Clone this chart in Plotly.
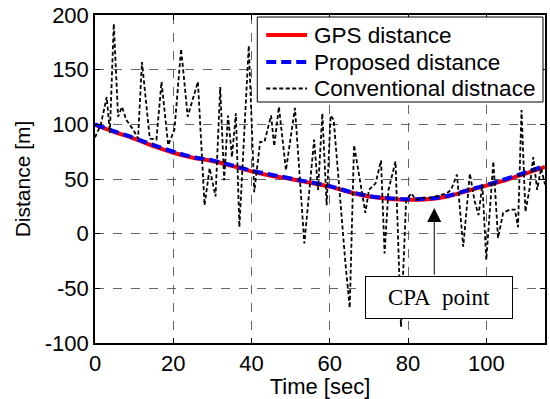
import plotly.graph_objects as go

# GPS reference distance
gps_t = [0, 5, 10, 15, 20, 25, 30, 35, 40, 45, 50, 55, 60, 65, 70, 75, 80, 85, 90, 95, 100, 105, 110, 115]
gps_d = [99.5, 93, 87, 80, 74, 69.5, 66.5, 62, 57, 53, 50, 46.5, 43, 38, 34, 32, 31, 31.5, 34, 39, 44, 49, 55, 61]

# Proposed estimate
prop_t = [0, 5, 10, 15, 20, 25, 30, 35, 40, 45, 50, 55, 60, 65, 70, 75, 80, 85, 90, 95, 100, 105, 110, 115]
prop_d = [100, 93.5, 87.5, 81, 75, 70, 67, 62.5, 57.5, 54, 50.5, 47, 43.5, 38.5, 34.5, 32.5, 31.5, 32, 34.5, 39.5, 44.5, 50, 56, 62]

# Conventional estimate
conv_t = [0, 1.5, 3.0, 3.8, 4.8, 5.9, 6.9, 8, 9.8, 11, 12, 14, 15.7, 17, 18.7, 20.3, 22, 23.7, 26.3, 28, 29.3,
          30.8, 32, 33, 34, 35, 36, 36.9, 39.3, 40.7, 42.2, 43.3, 45, 45.8, 47, 48.8, 51.1, 53.5, 56, 57, 58.1,
          59.2, 60.2, 61, 64, 65.1, 66.2, 69.1, 70, 71.7, 73.1, 74, 75, 76.8, 78.2, 79.5, 80.8, 82, 84, 86, 88,
          89.9, 91, 92.5, 94.1, 95.8, 97, 98, 99, 100, 101.8, 103, 104.3, 106, 107.3, 108.1, 109, 110, 111, 112,
          113, 114, 115]
conv_d = [88, 100, 125, 92, 192, 107, 116, 104, 95, 87, 157, 87, 86, 139, 81, 95, 169, 107, 139, 26, 60,
          34, 134, 49, 108, 70, 110, 6, 172, 38, 84, 84, 108, 80, 116, 58, 115, -9, 86, 40, 110,
          26, 108, 104, -27, -68, 81, 19, 40, 46, 67, -18, 40, 66, -85, 30, 37, 31, 33, 33, 35,
          37, 40, 54, -12, 55, 30, 17, 45, -24, 66, -4, 19, 22, 22, 6, 113, 20, 40, 70,
          40, 60, 45]

series_names = ["GPS distance", "Proposed distance", "Conventional distnace"]
x_ticks = [0, 20, 40, 60, 80, 100]
y_ticks = [-100, -50, 0, 50, 100, 150, 200]
y_tick_text = ["-100", "-50", "0", "50", "100", "150", "200"]

SANS = "Liberation Sans, Arial, sans-serif"
SERIF = "Liberation Serif, Times New Roman, serif"

styles = [
    dict(color="#ff0000", width=4),
    dict(color="#0000ff", width=4, dash="10px,5px"),
    dict(color="#000000", width=1.8, dash="4px,2.5px"),
]

fig = go.Figure()
fig.add_trace(go.Scatter(x=gps_t, y=gps_d, mode="lines", name=series_names[0],
                         line=dict(shape="spline", **styles[0])))
fig.add_trace(go.Scatter(x=prop_t, y=prop_d, mode="lines", name=series_names[1],
                         line=dict(shape="spline", **styles[1])))
fig.add_trace(go.Scatter(x=conv_t, y=conv_d, mode="lines", name=series_names[2],
                         line=styles[2]))

axis_common = dict(showline=True, linecolor="black", linewidth=1.5, mirror="ticks",
                   ticks="inside", ticklen=5, tickcolor="black",
                   showgrid=True, gridcolor="#666666", griddash="dash", gridwidth=1,
                   zeroline=False, tickfont=dict(family=SANS, size=22, color="black"))

fig.update_xaxes(range=[0, 115], tickvals=x_ticks,
                 title=dict(text="Time [sec]", font=dict(family=SANS, size=22, color="black"), standoff=4),
                 **axis_common)
fig.update_yaxes(range=[-100, 200], tickvals=y_ticks, ticktext=y_tick_text,
                 title=dict(text="Distance [m]", font=dict(family=SANS, size=21, color="black"), standoff=8),
                 **axis_common)

# --- legend (drawn as a boxed key in the upper right) ---
W, H, L, B = 452.0, 328.0, 95.0, 343.0
def px(xp):
    return (xp - L) / W
def py(yp):
    return (B - yp) / H

fig.add_shape(type="rect", xref="paper", yref="paper",
              x0=px(258), x1=px(545), y0=py(102), y1=py(17),
              line=dict(color="black", width=1), fillcolor="white", layer="above")
row_y = [35, 62, 88.5]
for name, st, yy in zip(series_names, styles, row_y):
    fig.add_shape(type="line", xref="paper", yref="paper",
                  x0=px(267), x1=px(308), y0=py(yy), y1=py(yy),
                  line=dict(color=st["color"], width=st["width"], dash=st.get("dash", "solid")),
                  layer="above")
    fig.add_annotation(xref="paper", yref="paper", x=px(313), y=py(yy), xanchor="left", yanchor="middle",
                       text=name, showarrow=False,
                       font=dict(family=SANS, size=22.5, color="black"))

# CPA annotation box
fig.add_annotation(x=88, y=-58.5, xref="x", yref="y", text="CPA\u00a0\u00a0point", showarrow=False,
                   font=dict(family=SERIF, size=23, color="black"),
                   bordercolor="black", borderwidth=1, bgcolor="white", width=144, height=39)
# arrow to CPA point
fig.add_annotation(x=86.7, y=23.4, xref="x", yref="y", text="", showarrow=True,
                   ax=0, ay=68, arrowhead=2, arrowsize=2.8, arrowwidth=1, arrowcolor="black", standoff=0)

fig.update_layout(
    width=550, height=399,
    margin=dict(l=95, r=3, t=15, b=56),
    paper_bgcolor="white", plot_bgcolor="white",
    font=dict(family=SANS, size=21, color="black"),
    showlegend=False,
)

fig.write_html("out.html")
